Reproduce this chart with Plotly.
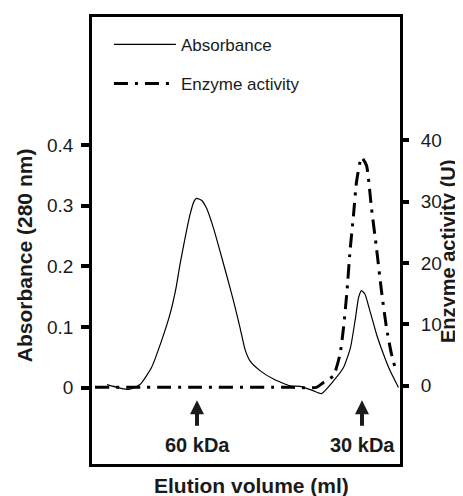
import plotly.graph_objects as go

# Elution volume (arbitrary units, axis has no tick labels)
abs_volume = [3.0, 7.3, 9.6, 11.9, 13.9, 15.6, 16.8, 17.6, 18.6, 19.6, 20.4, 20.9, 21.9, 22.9,
              24.3, 25.6, 26.9, 28.3, 29.6, 30.6, 31.6, 33.6, 36.3, 39.6, 41.6, 44.2, 45.9,
              48.3, 50.3, 51.7, 52.7, 53.3, 53.9, 54.6, 55.6, 56.9, 58.3, 59.6, 61.3]
absorbance = [0.005, -0.003, 0.005, 0.033, 0.077, 0.121, 0.164, 0.203, 0.246, 0.285, 0.307, 0.312,
              0.309, 0.296, 0.263, 0.225, 0.186, 0.143, 0.099, 0.063, 0.044, 0.028, 0.014, 0.003,
              0.002, -0.005, -0.010, 0.011, 0.033, 0.066, 0.115, 0.148, 0.160, 0.154, 0.126,
              0.088, 0.055, 0.028, 0.0]

enz_volume = [0.6, 20.0, 40.0, 44.9, 46.3, 48.3, 49.6, 50.3, 51.0, 51.6, 52.3, 52.9, 53.9,
              54.9, 55.9, 56.9, 57.9, 58.9, 59.9, 60.8]
enzyme = [-0.3, -0.3, -0.3, -0.3, 0.5, 1.6, 5.1, 9.4, 15.4, 21.9, 27.8, 33.2, 37.2,
          35.9, 28.9, 22.4, 15.4, 9.4, 5.1, 2.4]

abs_ticks = [0, 0.1, 0.2, 0.3, 0.4]
abs_ticklabels = ["0", "0.1", "0.2", "0.3", "0.4"]
enz_ticks = [0, 10, 20, 30, 40]
enz_ticklabels = ["0", "10", "20", "30", "40"]

markers = [("60 kDa", 21.0), ("30 kDa", 54.0)]

INK = "#1a1a1a"
FONT = "Liberation Sans, Arial, sans-serif"

fig = go.Figure()
fig.add_trace(go.Scatter(x=abs_volume, y=absorbance, mode="lines", name="Absorbance",
                         line=dict(color="black", width=1.2, shape="spline", smoothing=0.5),
                         legendgroup="a"))
fig.add_trace(go.Scatter(x=enz_volume, y=enzyme, mode="lines", name="Enzyme activity",
                         line=dict(color="black", width=3, dash="14px,7px,3px,7px",
                                   shape="spline", smoothing=0.5),
                         yaxis="y2", legendgroup="b"))

for label, xv in markers:
    fig.add_annotation(x=xv, y=-0.021, xref="x", yref="y", text="", showarrow=True,
                       ax=0, ay=27, arrowhead=2, arrowsize=0.7, arrowwidth=4,
                       arrowcolor=INK)
    fig.add_annotation(x=xv, y=-0.095, xref="x", yref="y", text="<b>" + label + "</b>",
                       showarrow=False, xanchor="center", yanchor="middle",
                       font=dict(family=FONT, size=20, color=INK))

fig.add_annotation(x=-0.221, y=0.467, xref="paper", yref="paper",
                   text="<b>Absorbance (280 nm)</b>", textangle=-90, showarrow=False,
                   xanchor="center", yanchor="middle",
                   font=dict(family=FONT, size=21, color=INK))
fig.add_annotation(x=1.155, y=0.476, xref="paper", yref="paper",
                   text="<b>Enzyme activity (U)</b>", textangle=-90, showarrow=False,
                   xanchor="center", yanchor="middle",
                   font=dict(family=FONT, size=20, color=INK))
fig.add_annotation(x=0.519, y=-0.049, xref="paper", yref="paper",
                   text="<b>Elution volume (ml)</b>", showarrow=False,
                   xanchor="center", yanchor="middle",
                   font=dict(family=FONT, size=21, color=INK))

# the page body keeps an 8px default margin, so the figure is 8px smaller and its
# left/top margins are reduced by 8px to keep the plot box where the reference has it
fig.update_layout(
    width=455, height=488, autosize=False,
    margin=dict(l=84, r=63, t=6, b=32),
    paper_bgcolor="white", plot_bgcolor="white",
    showlegend=True,
    legend=dict(x=0.055, y=0.978, xanchor="left", yanchor="top", itemwidth=62,
                bgcolor="rgba(0,0,0,0)", tracegroupgap=14, traceorder="grouped",
                font=dict(family=FONT, size=17, color=INK)),
    xaxis=dict(range=[0, 61.6], showticklabels=False, ticks="", showgrid=False,
               zeroline=False, showline=True, mirror=True, linecolor="black", linewidth=2.5),
    yaxis=dict(range=[-0.126, 0.611], tickvals=abs_ticks, ticktext=abs_ticklabels,
               ticks="outside", ticklen=8, tickwidth=4, tickcolor="black",
               showgrid=False, zeroline=False, showline=True, mirror=True,
               linecolor="black", linewidth=2.5, ticklabelstandoff=4,
               tickfont=dict(family=FONT, size=19, color=INK)),
    yaxis2=dict(range=[-12.8, 60.1], overlaying="y", side="right",
                tickvals=enz_ticks, ticktext=enz_ticklabels,
                ticks="outside", ticklen=8, tickwidth=4, tickcolor="black",
                showgrid=False, zeroline=False, showline=False, ticklabelstandoff=8,
                tickfont=dict(family=FONT, size=19, color=INK)),
)

fig.write_html("out.html")
